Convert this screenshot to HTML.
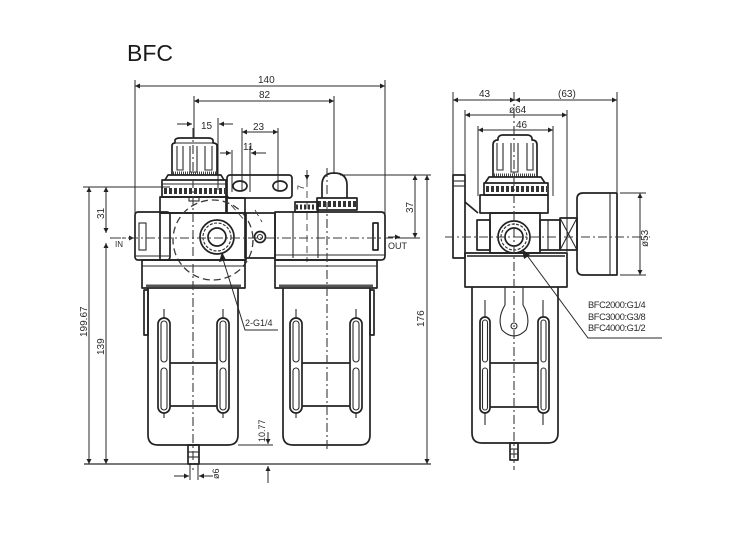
<!DOCTYPE html>
<html><head><meta charset="utf-8">
<style>
html,body{margin:0;padding:0;background:#fff;}
svg{display:block;}
text{font-family:"Liberation Sans",sans-serif;fill:#2a2a2a;}
.o{fill:none;stroke:#222;stroke-width:1.7;stroke-linejoin:round;}
.t{fill:none;stroke:#2a2a2a;stroke-width:1.1;}
.d{fill:none;stroke:#2a2a2a;stroke-width:1;}
.c{fill:none;stroke:#3a3a3a;stroke-width:1.1;stroke-dasharray:9 3 2 3;}
.h{fill:none;stroke:#3a3a3a;stroke-width:1.3;stroke-dasharray:7 4;}
.dim{font-size:10px;}
</style></head>
<body>
<svg width="750" height="543" viewBox="0 0 750 543" xmlns="http://www.w3.org/2000/svg">
<defs>
<marker id="a" viewBox="0 0 10 10" refX="10" refY="5" markerWidth="9" markerHeight="5" orient="auto-start-reverse" markerUnits="userSpaceOnUse"><path d="M0,0 L10,5 L0,10 z" fill="#222"/></marker>
</defs>

<text x="127" y="61" style="font-size:23px;fill:#1a1a1a">BFC</text>

<!-- ===== LEFT ASSEMBLY DIMENSIONS ===== -->
<line class="d" x1="135" y1="80" x2="135" y2="215"/>
<line class="d" x1="385" y1="80" x2="385" y2="215"/>
<line class="d" x1="135" y1="86" x2="385" y2="86" marker-start="url(#a)" marker-end="url(#a)"/>
<text class="dim" x="258" y="83">140</text>
<line class="d" x1="194" y1="96" x2="194" y2="138"/>
<line class="d" x1="334" y1="96" x2="334" y2="174"/>
<line class="d" x1="194" y1="101" x2="334" y2="101" marker-start="url(#a)" marker-end="url(#a)"/>
<text class="dim" x="259" y="98">82</text>
<line class="d" x1="177" y1="124" x2="192" y2="124" marker-end="url(#a)"/>
<line class="d" x1="233" y1="124" x2="219" y2="124" marker-end="url(#a)"/>
<line class="d" x1="218" y1="118" x2="218" y2="190"/>
<text class="dim" x="201" y="129">15</text>
<line class="d" x1="242" y1="128" x2="242" y2="190"/>
<line class="d" x1="278" y1="128" x2="278" y2="190"/>
<line class="d" x1="242" y1="132" x2="278" y2="132" marker-start="url(#a)" marker-end="url(#a)"/>
<text class="dim" x="253" y="130">23</text>
<line class="d" x1="220" y1="153" x2="231" y2="153" marker-end="url(#a)"/>
<line class="d" x1="266" y1="153" x2="251" y2="153" marker-end="url(#a)"/>
<line class="d" x1="232" y1="150" x2="232" y2="192"/>
<line class="d" x1="250" y1="146" x2="250" y2="192"/>
<text class="dim" x="243" y="150">11</text>

<line class="d" x1="83" y1="187" x2="170" y2="187"/>
<line class="d" x1="89" y1="187" x2="89" y2="464" marker-start="url(#a)" marker-end="url(#a)"/>
<text class="dim" transform="translate(87,337) rotate(-90)">199.67</text>
<line class="d" x1="106" y1="187" x2="106" y2="233" marker-start="url(#a)" marker-end="url(#a)"/>
<text class="dim" transform="translate(104,219) rotate(-90)">31</text>
<line class="d" x1="106" y1="243" x2="106" y2="464" marker-start="url(#a)" marker-end="url(#a)"/>
<text class="dim" transform="translate(104,355) rotate(-90)">139</text>
<line class="d" x1="110" y1="238" x2="134" y2="238" stroke-dasharray="4 2" marker-end="url(#a)"/>
<text x="115" y="247" style="font-size:8px">IN</text>

<line class="t" x1="84" y1="464" x2="431" y2="464" style="stroke-width:1.3"/>

<line class="d" x1="340" y1="175" x2="431" y2="175"/>
<line class="d" x1="415" y1="175" x2="415" y2="238" marker-start="url(#a)" marker-end="url(#a)"/>
<line class="d" x1="395" y1="238" x2="420" y2="238"/>
<text class="dim" transform="translate(413,213) rotate(-90)">37</text>
<line class="d" x1="427" y1="175" x2="427" y2="464" marker-start="url(#a)" marker-end="url(#a)"/>
<text class="dim" transform="translate(424,327) rotate(-90)">176</text>
<line class="d" x1="388" y1="237" x2="400" y2="237" marker-end="url(#a)"/>
<text x="388" y="249" style="font-size:9px">OUT</text>

<line class="d" x1="307" y1="170" x2="307" y2="180" marker-end="url(#a)"/>
<line class="h" x1="307" y1="180" x2="307" y2="262" style="stroke-width:0.9"/>
<text class="dim" transform="translate(304,190) rotate(-90)" style="font-size:9px">7</text>

<line class="d" x1="238" y1="445" x2="273" y2="445"/>
<line class="d" x1="268" y1="432" x2="268" y2="444" marker-end="url(#a)"/>
<text class="dim" transform="translate(265,442) rotate(-90)" style="font-size:9px">10.77</text>
<line class="d" x1="268" y1="483" x2="268" y2="466" marker-end="url(#a)"/>

<line class="d" x1="190" y1="464" x2="190" y2="480"/>
<line class="d" x1="198" y1="464" x2="198" y2="480"/>
<line class="d" x1="174" y1="476" x2="189" y2="476" marker-end="url(#a)"/>
<line class="d" x1="213" y1="476" x2="199" y2="476" marker-end="url(#a)"/>
<text transform="translate(219,479) rotate(-90)" style="font-size:9px">ø6</text>

<!-- ===== LEFT REGULATOR/FILTER ===== -->
<path class="o" d="M172,175 V146 Q172,143 175,143 V140 Q176,138 180,138 H208 Q212,138 213,140 V143 Q217,143 217,146 V175"/>
<line class="t" x1="175" y1="143" x2="213" y2="143"/>
<path class="t" d="M177,146 V170 H183 V146 M190,146 V172 H197 V146 M205,146 V170 H212 V146"/>
<line x1="173" y1="173" x2="216" y2="173" stroke="#444" stroke-width="3" stroke-dasharray="1 1"/>
<path class="o" d="M165,180 L168,175 H221 L224,180"/>
<rect class="o" x="162" y="180" width="64" height="17"/>
<line x1="164" y1="191" x2="225" y2="191" stroke="#333" stroke-width="6" stroke-dasharray="3 2"/>
<line class="t" x1="162" y1="184" x2="226" y2="184"/>
<rect class="t" x="189" y="197" width="10" height="4"/>
<rect class="o" x="160" y="197" width="66" height="16"/>
<rect class="o" x="160" y="213" width="86" height="47"/>
<rect class="o" x="135" y="212" width="35" height="48" rx="3" fill="#fff"/>
<rect class="t" x="139" y="223" width="7" height="27"/>
<line class="t" x1="135" y1="256" x2="170" y2="256"/>
<rect class="o" x="227" y="198" width="18" height="15"/>
<circle class="o" cx="217" cy="237" r="17"/>
<circle class="t" cx="217" cy="237" r="14" stroke-dasharray="3 1.5"/>
<circle class="o" cx="217" cy="237" r="9"/>
<circle class="h" cx="213" cy="240" r="40"/>
<rect class="o" x="142" y="260" width="103" height="28" fill="#fff"/>
<line class="t" x1="142" y1="266" x2="245" y2="266"/>
<line x1="146" y1="286" x2="241" y2="286" stroke="#555" stroke-width="3"/>
<path class="o" d="M148,288 V435 Q148,445 158,445 H228 Q238,445 238,435 V288"/>
<rect class="o" x="144" y="290" width="4" height="45"/>
<rect class="o" x="158" y="318" width="12" height="95" rx="6"/>
<rect class="t" x="161" y="321" width="6" height="41" rx="3"/>
<rect class="t" x="161" y="368" width="6" height="42" rx="3"/>
<rect class="o" x="217" y="318" width="12" height="95" rx="6"/>
<rect class="t" x="220" y="321" width="6" height="41" rx="3"/>
<rect class="t" x="220" y="368" width="6" height="42" rx="3"/>
<line class="o" x1="170" y1="363" x2="217" y2="363"/>
<line class="o" x1="170" y1="406" x2="217" y2="406"/>
<line class="t" x1="164" y1="309" x2="164" y2="318"/>
<line class="t" x1="223" y1="309" x2="223" y2="318"/>
<line class="t" x1="164" y1="413" x2="164" y2="418"/>
<line class="t" x1="223" y1="413" x2="223" y2="418"/>
<rect class="o" x="188" y="445" width="11" height="19"/>
<line class="t" x1="188" y1="452" x2="199" y2="452"/>
<line class="t" x1="188" y1="457" x2="199" y2="457"/>
<path class="d" d="M222,256 L245,330 H278"/>
<path d="M222,252 L219,262 L226,260 z" fill="#222"/>
<text x="245" y="326" style="font-size:9px">2-G1/4</text>

<rect class="o" x="227" y="175" width="65" height="23" rx="3" fill="#fff"/>
<ellipse class="o" cx="240" cy="186" rx="7" ry="5"/>
<ellipse class="o" cx="280" cy="186" rx="7" ry="5"/>
<rect class="o" x="245" y="213" width="30" height="45"/>
<circle class="o" cx="260" cy="237" r="5.5"/>
<circle class="t" cx="260" cy="237" r="2.5"/>
<path class="h" d="M231,205 L246,222 M255,210 L262,222" style="stroke-width:0.9"/>

<!-- ===== LUBRICATOR ===== -->
<path class="o" d="M322,198 V185 Q322,173 334,173 Q347,173 347,185 V198"/>
<rect class="o" x="317" y="198" width="40" height="12"/>
<line x1="318" y1="204" x2="356" y2="204" stroke="#333" stroke-width="6" stroke-dasharray="3 2"/>
<rect class="o" x="295" y="202" width="23" height="10"/>
<line x1="296" y1="207" x2="317" y2="207" stroke="#333" stroke-width="5" stroke-dasharray="2 2"/>
<path class="o" d="M275,212 H381 Q385,212 385,216 V256 Q385,260 381,260 H275 Z"/>
<line class="t" x1="293" y1="212" x2="293" y2="258"/>
<line class="t" x1="318" y1="212" x2="318" y2="258"/>
<rect class="o" x="373" y="223" width="5" height="27"/>
<line class="t" x1="275" y1="255" x2="385" y2="255"/>
<rect class="o" x="275" y="260" width="102" height="28" fill="#fff"/>
<line class="t" x1="275" y1="266" x2="377" y2="266"/>
<line x1="279" y1="286" x2="373" y2="286" stroke="#555" stroke-width="3"/>
<path class="o" d="M283,288 V435 Q283,445 293,445 H360 Q370,445 370,435 V288"/>
<rect class="o" x="370" y="290" width="4" height="45"/>
<rect class="o" x="290" y="318" width="12" height="95" rx="6"/>
<rect class="t" x="293" y="321" width="6" height="41" rx="3"/>
<rect class="t" x="293" y="368" width="6" height="42" rx="3"/>
<rect class="o" x="350" y="318" width="12" height="95" rx="6"/>
<rect class="t" x="353" y="321" width="6" height="41" rx="3"/>
<rect class="t" x="353" y="368" width="6" height="42" rx="3"/>
<line class="o" x1="302" y1="363" x2="350" y2="363"/>
<line class="o" x1="302" y1="406" x2="350" y2="406"/>
<line class="t" x1="296" y1="309" x2="296" y2="318"/>
<line class="t" x1="356" y1="309" x2="356" y2="318"/>
<line class="t" x1="296" y1="413" x2="296" y2="418"/>
<line class="t" x1="356" y1="413" x2="356" y2="418"/>

<line class="c" x1="193" y1="128" x2="193" y2="470"/>
<line class="c" x1="327" y1="168" x2="327" y2="452"/>
<line class="c" x1="112" y1="238" x2="395" y2="238"/>

<!-- ===== SIDE VIEW ===== -->
<line class="d" x1="453" y1="92" x2="453" y2="178"/>
<line class="d" x1="617" y1="92" x2="617" y2="192"/>
<line class="d" x1="453" y1="100" x2="515" y2="100" marker-start="url(#a)" marker-end="url(#a)"/>
<line class="d" x1="515" y1="100" x2="617" y2="100" marker-start="url(#a)" marker-end="url(#a)"/>
<text class="dim" x="479" y="97">43</text>
<text class="dim" x="558" y="97">(63)</text>
<line class="d" x1="465" y1="110" x2="465" y2="178"/>
<line class="d" x1="567" y1="110" x2="567" y2="252"/>
<line class="d" x1="465" y1="115" x2="567" y2="115" marker-start="url(#a)" marker-end="url(#a)"/>
<text class="dim" x="509" y="113">ø64</text>
<line class="d" x1="478" y1="126" x2="478" y2="196"/>
<line class="d" x1="553" y1="126" x2="553" y2="196"/>
<line class="d" x1="478" y1="130" x2="553" y2="130" marker-start="url(#a)" marker-end="url(#a)"/>
<text class="dim" x="516" y="128">46</text>
<line class="d" x1="620" y1="193" x2="646" y2="193"/>
<line class="d" x1="620" y1="275" x2="646" y2="275"/>
<line class="d" x1="640" y1="193" x2="640" y2="275" marker-start="url(#a)" marker-end="url(#a)"/>
<text class="dim" transform="translate(648,247) rotate(-90)">ø53</text>

<rect class="o" x="453" y="175" width="12" height="83"/>
<line class="t" x1="453" y1="181" x2="465" y2="181"/>
<line class="t" x1="453" y1="186" x2="465" y2="186"/>
<line class="o" x1="465" y1="202" x2="478" y2="213"/>
<path class="o" d="M493,177 V145 Q493,140 498,140 V138 Q499,135 503,135 H527 Q531,135 532,138 V140 Q537,140 537,145 V177"/>
<path class="t" d="M497,143 V170 H503 V143 M511,143 V172 H518 V143 M527,143 V170 H533 V143"/>
<line x1="494" y1="175" x2="536" y2="175" stroke="#444" stroke-width="3" stroke-dasharray="1 1"/>
<path class="o" d="M485,183 L489,177 H541 L545,183"/>
<rect class="o" x="484" y="183" width="64" height="12"/>
<line x1="486" y1="189" x2="547" y2="189" stroke="#333" stroke-width="6" stroke-dasharray="3 2"/>
<rect class="o" x="480" y="195" width="68" height="18"/>
<rect class="o" x="490" y="213" width="50" height="40" fill="#fff"/>
<rect class="o" x="477" y="220" width="13" height="30"/>
<rect class="o" x="540" y="220" width="20" height="30"/>
<line class="t" x1="548" y1="220" x2="548" y2="250"/>
<rect class="o" x="560" y="218" width="17" height="32"/>
<path class="t" d="M560,218 L577,250 M577,218 L560,250"/>
<path class="o" d="M583,193 H617 V275 H583 Q577,275 577,269 V199 Q577,193 583,193 Z"/>
<line class="t" x1="610" y1="193" x2="610" y2="275"/>
<circle class="o" cx="514" cy="237" r="16"/>
<circle class="t" cx="514" cy="237" r="13" stroke-dasharray="3 1.5"/>
<circle class="o" cx="514" cy="237" r="9"/>
<rect class="o" x="465" y="253" width="102" height="34" fill="#fff"/>
<line x1="467" y1="256" x2="565" y2="256" stroke="#555" stroke-width="2"/>
<path class="o" d="M472,287 V433 Q472,443 482,443 H548 Q558,443 558,433 V287"/>
<path class="t" d="M505,287 V305 Q497,318 502,330 Q514,342 526,330 Q531,318 523,305 V287"/>
<circle class="t" cx="514" cy="326" r="3"/>
<rect class="o" x="480" y="317" width="10" height="96" rx="5"/>
<rect class="t" x="482.5" y="320" width="5" height="42" rx="2.5"/>
<rect class="t" x="482.5" y="368" width="5" height="42" rx="2.5"/>
<rect class="o" x="538" y="317" width="11" height="96" rx="5"/>
<rect class="t" x="541" y="320" width="5" height="42" rx="2.5"/>
<rect class="t" x="541" y="368" width="5" height="42" rx="2.5"/>
<line class="o" x1="490" y1="363" x2="538" y2="363"/>
<line class="o" x1="490" y1="407" x2="538" y2="407"/>
<line class="t" x1="485" y1="300" x2="485" y2="317"/>
<line class="t" x1="543" y1="300" x2="543" y2="317"/>
<line class="t" x1="485" y1="413" x2="485" y2="425"/>
<line class="t" x1="543" y1="413" x2="543" y2="425"/>
<rect class="o" x="510" y="443" width="8" height="17"/>
<line class="t" x1="510" y1="449" x2="518" y2="449"/>
<line class="t" x1="510" y1="454" x2="518" y2="454"/>
<line class="c" x1="514" y1="92" x2="514" y2="470"/>
<line class="c" x1="445" y1="237" x2="650" y2="237"/>
<path class="d" d="M526,254 L588,338 H662"/>
<path d="M522,249 L524,259 L530,255 z" fill="#222"/>
<text x="588" y="308" style="font-size:9.3px;letter-spacing:-0.4px">BFC2000:G1/4</text>
<text x="588" y="320" style="font-size:9.3px;letter-spacing:-0.4px">BFC3000:G3/8</text>
<text x="588" y="331" style="font-size:9.3px;letter-spacing:-0.4px">BFC4000:G1/2</text>
</svg>
</body></html>
